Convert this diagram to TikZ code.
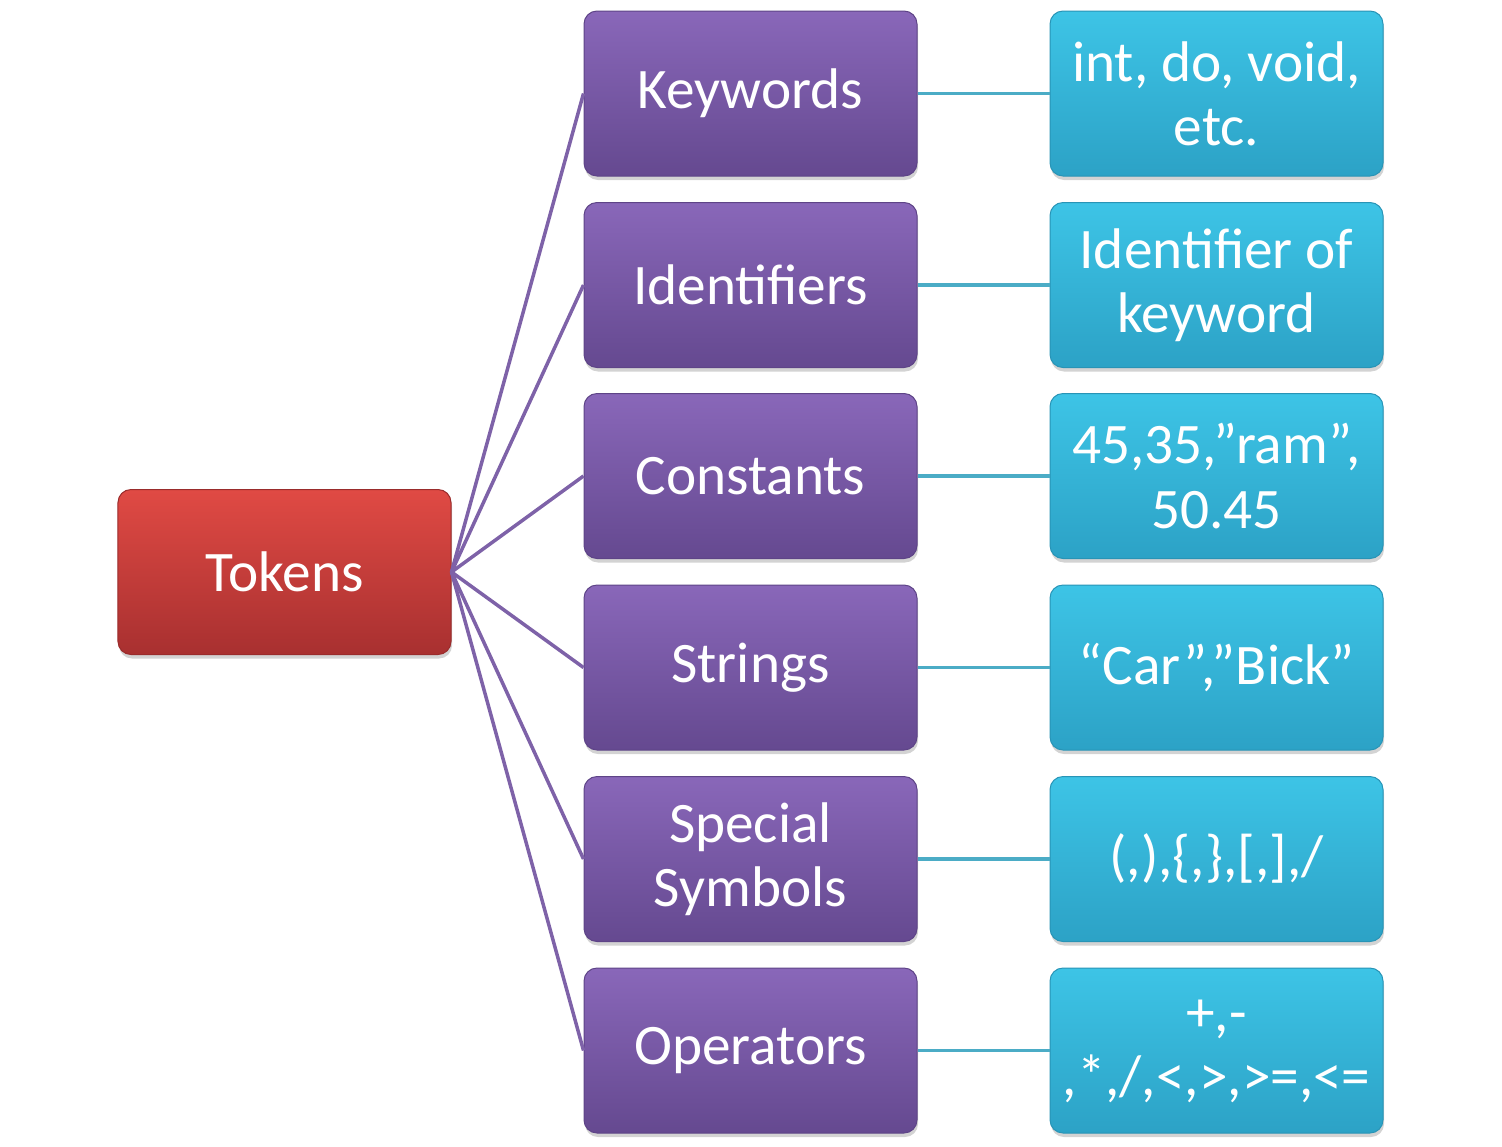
\documentclass[tikz,border=0pt]{standalone}
\usepackage{fontspec}
\setmainfont{Carlito}
\usetikzlibrary{shadows}
\definecolor{redT}{HTML}{E04A44}
\definecolor{redB}{HTML}{A83030}
\definecolor{redD}{HTML}{9A2C2C}
\definecolor{purT}{HTML}{8967B9}
\definecolor{purB}{HTML}{654990}
\definecolor{purD}{HTML}{5E4487}
\definecolor{bluT}{HTML}{3DC4E6}
\definecolor{bluB}{HTML}{2CA2C6}
\definecolor{bluD}{HTML}{2894B6}
\definecolor{purL}{HTML}{7E62A8}
\definecolor{bluL}{HTML}{4BACC6}
\tikzset{
  boxbase/.style={rectangle, rounded corners=13bp, minimum width=333bp, minimum height=165bp,
    text=white, align=center, inner sep=0pt, line width=1bp,
    font=\fontsize{57.5}{64.5}\selectfont,
    drop shadow={opacity=0.35, shadow xshift=1bp, shadow yshift=-4bp}},
  rootbox/.style={boxbase, top color=redT, bottom color=redB, draw=redD},
  catbox/.style={boxbase, top color=purT, bottom color=purB, draw=purD},
  exbox/.style={boxbase, top color=bluT, bottom color=bluB, draw=bluD},
  purlink/.style={draw=purL, line width=3.5bp},
  blulink/.style={draw=bluL, line width=3.5bp}
}
\begin{document}
\begin{tikzpicture}[x=1bp,y=-1bp]
\useasboundingbox (0,0) rectangle (1502,1146);
\node[rootbox] (tok) at (284.5,572) {Tokens};
\node[catbox] (c1) at (750.5,93.5) {Keywords};
\node[catbox] (c2) at (750.5,285) {Identifiers};
\node[catbox] (c3) at (750.5,476) {Constants};
\node[catbox] (c4) at (750.5,667.5) {Strings};
\node[catbox] (c5) at (750.5,859) {Special\\Symbols};
\node[catbox] (c6) at (750.5,1050.5) {Operators};
\node[exbox] (e1) at (1216.5,93.5) {int, do, void,\\etc.};
\node[exbox] (e2) at (1216.5,285) {Identifier of\\keyword};
\node[exbox] (e3) at (1216.5,476) {45,35,”ram”,\\50.45};
\node[exbox] (e4) at (1216.5,667.5) {“Car”,”Bick”};
\node[exbox] (e5) at (1216.5,859) {(,),\{,\},[,],/};
\node[exbox] (e6) at (1216.5,1050.5) {\raisebox{-5bp}{\begin{tabular}{@{}c@{}}+,-\\,*,/,<,>,>=,<=\end{tabular}}};
\foreach \i in {1,...,6}{
  \draw[purlink] (tok.east) -- (c\i.west);
  \draw[blulink] (c\i.east) -- (e\i.west);
}
\end{tikzpicture}
\end{document}
